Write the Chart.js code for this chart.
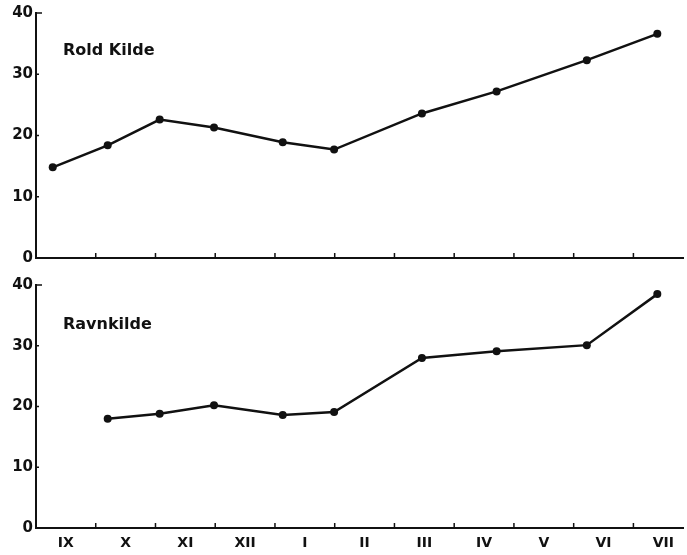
<!DOCTYPE html>
<html>
<head>
<meta charset="utf-8">
<script src="https://cdn.jsdelivr.net/npm/chart.js@4.4.1/dist/chart.umd.min.js"></script>
<style>
  html, body { margin: 0; padding: 0; background: #fff; }
  #wrap { position: relative; width: 687px; height: 555px; overflow: hidden; }
  .panel { position: absolute; left: 0; width: 687px; }
  #top { top: 0; height: 270px; }
  #bottom { top: 272px; height: 283px; }
  .name { position: absolute; left: 63px; font: bold 16px "DejaVu Sans", sans-serif; color: #111; line-height: 16px; }
</style>
</head>
<body>
<div id="wrap">
  <div class="panel" id="top"><canvas id="chartTop"></canvas></div>
  <div class="panel" id="bottom"><canvas id="chartBottom"></canvas></div>
  <div class="name" style="top:42px">Rold Kilde</div>
  <div class="name" style="top:316px">Ravnkilde</div>
</div>
<script>
// === Datos ===
var monthLabels = ['IX', 'X', 'XI', 'XII', 'I', 'II', 'III', 'IV', 'V', 'VI', 'VII'];
// posicion de cada muestra en meses desde el inicio de IX
var sampleMonths = [0.28, 1.2, 2.07, 2.98, 4.13, 4.99, 6.46, 7.71, 9.22, 10.4];
var roldKilde = [14.8, 18.4, 22.6, 21.3, 18.9, 17.7, 23.6, 27.2, 32.3, 36.6];
var ravnkilde = [null, 18.0, 18.8, 20.2, 18.6, 19.1, 28.0, 29.1, 30.1, 38.5];
var yTicks = [0, 10, 20, 30, 40];

var INK = '#111';

function puntos(values) {
  return sampleMonths.map(function (m, i) { return { x: m, y: values[i] }; });
}

// marcas cortas hacia dentro en ambos ejes
var inwardTicks = {
  id: 'inwardTicks',
  afterDraw: function (chart) {
    var ctx = chart.ctx, a = chart.chartArea;
    var xs = chart.scales.x, ys = chart.scales.y;
    ctx.save();
    ctx.strokeStyle = INK;
    ctx.lineWidth = 1.5;
    ctx.beginPath();
    for (var m = 1; m < monthLabels.length; m++) {
      var px = xs.getPixelForValue(m);
      ctx.moveTo(px, a.bottom);
      ctx.lineTo(px, a.bottom - 5);
    }
    yTicks.forEach(function (v) {
      if (v === 0) return;
      var py = ys.getPixelForValue(v);
      ctx.moveTo(a.left, py);
      ctx.lineTo(a.left + (v === 40 ? 6 : 3), py);
    });
    ctx.stroke();
    ctx.restore();
  }
};

function makeChart(id, values, showLabels, xHeight) {
  return new Chart(document.getElementById(id), {
    type: 'line',
    data: {
      datasets: [{
        data: puntos(values),
        borderColor: INK,
        backgroundColor: INK,
        borderWidth: 2.5,
        pointRadius: 4,
        pointBackgroundColor: INK,
        pointBorderWidth: 0,
        tension: 0,
        spanGaps: false
      }]
    },
    options: {
      responsive: true,
      maintainAspectRatio: false,
      animation: false,
      layout: { padding: { top: 13, left: 0, right: 0, bottom: 0 } },
      plugins: { legend: { display: false }, tooltip: { enabled: false } },
      scales: {
        x: {
          type: 'linear',
          min: 0,
          max: 10.83,
          grid: { display: false, drawTicks: false },
          border: { display: true, color: INK, width: 2 },
          afterBuildTicks: function (scale) {
            scale.ticks = monthLabels.map(function (_, i) { return { value: i + 0.5 }; });
          },
          afterFit: function (scale) { scale.height = xHeight; },
          ticks: {
            display: showLabels,
            autoSkip: false,
            maxRotation: 0,
            padding: 7,
            color: INK,
            font: { family: 'DejaVu Sans', weight: 'bold', size: 14 },
            callback: function (v, i) { return monthLabels[i]; }
          }
        },
        y: {
          min: 0,
          max: 40,
          grid: { display: false, drawTicks: false },
          border: { display: true, color: INK, width: 2 },
          afterBuildTicks: function (scale) {
            scale.ticks = yTicks.map(function (v) { return { value: v }; });
          },
          afterFit: function (scale) { scale.width = 36; },
          ticks: {
            padding: 3,
            color: INK,
            font: { family: 'DejaVu Sans', weight: 'bold', size: 15 }
          }
        }
      }
    },
    plugins: [inwardTicks]
  });
}

makeChart('chartTop', roldKilde, false, 9);
makeChart('chartBottom', ravnkilde, true, 27);
</script>
</body>
</html>
